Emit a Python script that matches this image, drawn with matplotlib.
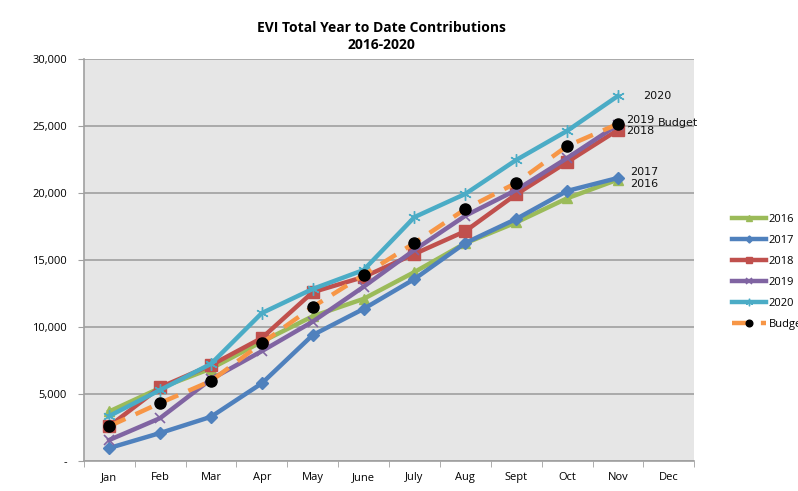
import matplotlib
matplotlib.use("Agg")
import matplotlib.pyplot as plt
from matplotlib.ticker import FixedLocator, FuncFormatter

months = ["Jan", "Feb", "Mar", "Apr", "May", "June", "July", "Aug", "Sept", "Oct", "Nov", "Dec"]
s2016 = [3700, 5450, 6900, 8900, 10800, 12100, 14100, 16250, 17800, 19600, 21000]
s2017 = [970, 2090, 3300, 5800, 9400, 11350, 13580, 16270, 18060, 20150, 21120]
s2018 = [2600, 5500, 7150, 9180, 12600, 13730, 15450, 17150, 19900, 22300, 24700]
s2019 = [1570, 3200, 6100, 8200, 10400, 13000, 15750, 18300, 20220, 22600, 25100]
s2020 = [3360, 5300, 7250, 11040, 12840, 14250, 18200, 19930, 22460, 24630, 27240]
budget = [2600, 4330, 5970, 8800, 11500, 13880, 16270, 18800, 20750, 23500, 25150]
yticks = [0, 5000, 10000, 15000, 20000, 25000, 30000]

fig = plt.figure(figsize=(7.98, 4.91), dpi=100)
ax = fig.add_axes([0.105, 0.061, 0.765, 0.819])
ax.set_facecolor("#e6e6e6")

x = list(range(len(s2016)))
ax.plot(x, s2016, color="#9bbb59", lw=3.2, marker="^", ms=7, label="2016", zorder=3)
ax.plot(x, s2017, color="#4f81bd", lw=3.2, marker="D", ms=6, label="2017", zorder=3)
ax.plot(x, s2018, color="#c0504d", lw=3.2, marker="s", ms=8, label="2018", zorder=3)
ax.plot(x, s2019, color="#8064a2", lw=3.2, marker="x", ms=7, mew=1.2, label="2019", zorder=3)
ax.plot(x, s2020, color="#4bacc6", lw=3.2, marker=(6, 2, 0), ms=9, mew=1.0, label="2020", zorder=3)
ax.plot(x, budget, color="#f79646", lw=3.2, ls=(0, (4, 2.5)), marker="o", ms=8,
        mfc="black", mec="black", label="Budget", zorder=4)

ax.set_xlim(-0.5, len(months) - 0.5)
ax.set_ylim(0, 30000)
ax.set_xticks(range(len(months)))
ax.set_xticklabels(months, fontsize=8, fontfamily="Open Sans")
ax.tick_params(axis="x", which="major", length=0, pad=8)
ax.xaxis.set_minor_locator(FixedLocator([i - 0.5 for i in range(len(months) + 1)]))
ax.tick_params(axis="x", which="minor", length=4, color="#a0a0a0", direction="out")
ax.set_yticks(yticks)
ax.yaxis.set_major_formatter(FuncFormatter(lambda v, p: "-" if v == 0 else f"{int(v):,}"))
ax.tick_params(axis="y", length=4, color="#a0a0a0", labelsize=8, pad=8)
for lbl in ax.get_yticklabels():
    lbl.set_fontfamily("Open Sans")
ax.grid(axis="y", color="#a0a0a0", lw=1.2)
ax.set_axisbelow(True)
for side in ["top", "right"]:
    ax.spines[side].set_visible(False)
for side in ["left", "bottom"]:
    ax.spines[side].set_color("#a0a0a0")
    ax.spines[side].set_linewidth(1.2)

fig.text(0.478, 0.926, "EVI Total Year to Date Contributions\n2016-2020", ha="center", va="center",
         fontsize=10, fontweight="bold", fontfamily="Open Sans", linespacing=1.3)

last = len(s2016) - 1
ann = dict(fontsize=8, fontfamily="DejaVu Sans", va="center", color="#111111")
ax.annotate("2020", (last, s2020[-1]), xytext=(18, 0), textcoords="offset points", **ann)
ax.annotate("2019", (last, s2019[-1]), xytext=(6, 3.5), textcoords="offset points", **ann)
ax.annotate("Budget", (last, budget[-1]), xytext=(29, 1), textcoords="offset points", **ann)
ax.annotate("2018", (last, s2018[-1]), xytext=(6, -1), textcoords="offset points", **ann)
ax.annotate("2017", (last, s2017[-1]), xytext=(9, 4), textcoords="offset points", **ann)
ax.annotate("2016", (last, s2016[-1]), xytext=(9, -3.5), textcoords="offset points", **ann)

leg = fig.legend(loc="upper left", bbox_to_anchor=(0.905, 0.585), frameon=False,
                 fontsize=8, handlelength=3, labelspacing=0.9, handletextpad=0.3,
                 markerscale=0.6)
for t in leg.get_texts():
    t.set_fontfamily("Open Sans")

fig.savefig("out.png", dpi=100, facecolor="white")
